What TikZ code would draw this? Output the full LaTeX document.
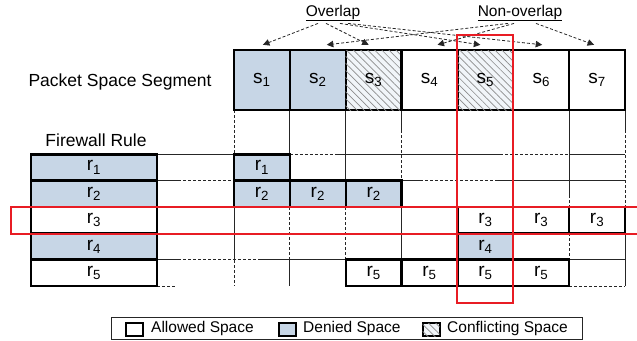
\documentclass[tikz,border=0pt]{standalone}
\usepackage{fontspec}
\setmainfont{Liberation Sans}
\usetikzlibrary{patterns.meta,arrows.meta}
\definecolor{deny}{RGB}{199,214,230}
\definecolor{hl}{RGB}{232,28,36}
\newcommand\cellfont{\fontsize{19}{19}\selectfont}
\newcommand\headfont{\fontsize{17.5}{18}\selectfont}
\newcommand\legfont{\fontsize{15.5}{16}\selectfont}
\newcommand\tagfont{\fontsize{15.5}{16}\selectfont}
\begin{document}
\begin{tikzpicture}[x=1pt,y=-1pt,
  gline/.style={line width=0.9pt,draw=black!85},
  gdash/.style={gline,dash pattern=on 3pt off 2pt},
  hatch/.style={fill=deny!25,postaction={pattern={Lines[angle=-45,distance=5pt,line width=0.7pt]},pattern color=black!45}},
  cellbox/.style={draw=black,line width=2.4pt,minimum width=55.86pt,minimum height=26.34pt,inner sep=0pt,font=\cellfont},
  scell/.style={cellbox,minimum height=60pt},
  rbox/.style={cellbox,minimum width=126pt},
  legsq/.style={draw=black,line width=2pt,minimum width=17pt,minimum height=13pt,inner sep=0pt},
  arr/.style={draw=black!85,line width=0.8pt,dash pattern=on 3pt off 2pt,-{Triangle[length=6.5pt,width=6.5pt]}},
  redline/.style={draw=hl,line width=2pt}
]
\useasboundingbox (0,0) rectangle (637,340);

% ---------- thin grid lines ----------
% vertical
\draw[gdash] (234,110) -- (234,154);
\draw[gline] (234,207) -- (234,260);
\draw[gdash] (234,260) -- (234,286);
\draw[gline] (289.9,110) -- (289.9,154);
\draw[gdash] (289.9,207) -- (289.9,260);
\draw[gline] (289.9,260) -- (289.9,286);
\draw[gline] (345.7,110) -- (345.7,181);
\draw[gdash] (345.7,207) -- (345.7,260);
\draw[gline] (401.6,110) -- (401.6,130);
\draw[gdash] (401.6,130) -- (401.6,181);
\draw[gline] (401.6,207) -- (401.6,260);
\draw[gline] (457.4,110) -- (457.4,260);
\draw[gline] (513.3,110) -- (513.3,234);
\draw[gline] (569.1,110) -- (569.1,195);
\draw[gdash] (569.1,195) -- (569.1,207);
\draw[gdash] (569.1,233.3) -- (569.1,260);
\draw[gline] (625,110) -- (625,130);
\draw[gdash] (625,130) -- (625,207);
\draw[gline] (625,233.3) -- (625,286);
% horizontal
\draw[gline] (157,154.3) -- (234,154.3);
\draw[gdash] (289.9,154.3) -- (335,154.3);
\draw[gline] (335,154.3) -- (500,154.3);
\draw[gdash] (500,154.3) -- (570,154.3);
\draw[gline] (570,154.3) -- (625,154.3);
\draw[gline] (157,180.6) -- (178,180.6);
\draw[gdash] (178,180.6) -- (234,180.6);
\draw[gline] (401.6,180.6) -- (420,180.6);
\draw[gdash] (420,180.6) -- (497,180.6);
\draw[gline] (497,180.6) -- (625,180.6);
\draw[gline] (157,207) -- (625,207);
\draw[gline] (157,233.3) -- (625,233.3);
\draw[gline] (157,259.7) -- (178,259.7);
\draw[gdash] (178,259.7) -- (260,259.7);
\draw[gline] (260,259.7) -- (345.7,259.7);
\draw[gline] (569.1,259.7) -- (625,259.7);
\draw[gdash] (157,286) -- (176,286);
\draw[gdash] (569.1,286) -- (625,286);

% ---------- labels ----------
\node[font=\headfont] (pss) at (120,82) {Packet Space Segment};
\node[font=\headfont] (fwr) at (96,140) {Firewall Rule};

% ---------- packet space segments ----------
\node[scell,fill=deny] (s1) at (261.93,80) {s\textsubscript{1}};
\node[scell,fill=deny] (s2) at (317.79,80) {s\textsubscript{2}};
\node[scell,hatch] (s3) at (373.65,80) {s\textsubscript{3}};
\node[scell,fill=white] (s4) at (429.5,80) {s\textsubscript{4}};
\node[scell,hatch] (s5) at (485.36,80) {s\textsubscript{5}};
\node[scell,fill=white] (s6) at (541.21,80) {s\textsubscript{6}};
\node[scell,fill=white] (s7) at (597.07,80) {s\textsubscript{7}};

% ---------- firewall rules ----------
\node[rbox,fill=deny] (R1) at (94,167.47) {r\textsubscript{1}};
\node[rbox,fill=deny] (R2) at (94,193.81) {r\textsubscript{2}};
\node[rbox,fill=white] (R3) at (94,220.15) {r\textsubscript{3}};
\node[rbox,fill=deny] (R4) at (94,246.49) {r\textsubscript{4}};
\node[rbox,fill=white] (R5) at (94,272.83) {r\textsubscript{5}};

% ---------- rule cells ----------
\node[cellbox,fill=deny] (c11) at (261.93,167.47) {r\textsubscript{1}};
\node[cellbox,fill=deny] (c21) at (261.93,193.81) {r\textsubscript{2}};
\node[cellbox,fill=deny] (c22) at (317.79,193.81) {r\textsubscript{2}};
\node[cellbox,fill=deny] (c23) at (373.65,193.81) {r\textsubscript{2}};
\node[cellbox,fill=white] (c35) at (485.36,220.15) {r\textsubscript{3}};
\node[cellbox,fill=white] (c36) at (541.21,220.15) {r\textsubscript{3}};
\node[cellbox,fill=white] (c37) at (597.07,220.15) {r\textsubscript{3}};
\node[cellbox,fill=deny] (c45) at (485.36,246.49) {r\textsubscript{4}};
\node[cellbox,fill=white] (c53) at (373.65,272.83) {r\textsubscript{5}};
\node[cellbox,fill=white] (c54) at (429.5,272.83) {r\textsubscript{5}};
\node[cellbox,fill=white] (c55) at (485.36,272.83) {r\textsubscript{5}};
\node[cellbox,fill=white] (c56) at (541.21,272.83) {r\textsubscript{5}};

% ---------- overlap tags and arrows ----------
\node[font=\tagfont,inner sep=1pt] (ov) at (333,13) {\underline{Overlap}};
\node[font=\tagfont,inner sep=1pt] (nov) at (520,13) {\underline{Non-overlap}};
\draw[arr] ([xshift=-15pt,yshift=-1pt]ov.south) -- ([xshift=1pt,yshift=4pt]s1.north);
\draw[arr] ([xshift=-7pt,yshift=-1pt]ov.south) -- ([xshift=-5pt,yshift=4pt]s3.north);
\draw[arr] ([xshift=7pt,yshift=-1pt]ov.south) -- ([xshift=-5pt,yshift=4pt]s5.north);
\draw[arr] ([xshift=15pt,yshift=-1pt]ov.south) -- ([xshift=1pt,yshift=4pt]s6.north);
\draw[arr] ([xshift=-12pt,yshift=-1pt]nov.south) -- ([xshift=9pt,yshift=4pt]s2.north);
\draw[arr] ([xshift=-6pt,yshift=-1pt]nov.south) -- ([xshift=8pt,yshift=4pt]s4.north);
\draw[arr] ([xshift=16pt,yshift=-1pt]nov.south) -- ([xshift=-3pt,yshift=4pt]s7.north);

% ---------- red highlights ----------
\draw[redline] (457.4,35) rectangle (513.3,302.5);
\draw[redline] (640,207) -- (11,207) -- (11,233.6) -- (640,233.6);

% ---------- legend ----------
\node[draw=black!85,line width=1pt,minimum width=471pt,minimum height=22pt,inner sep=0pt] (leg) at (347.4,328.6) {};
\node[legsq,fill=white] (la) at (134,329.8) {};
\node[font=\legfont,anchor=west,inner sep=0pt] (ta) at (151,328.8) {Allowed Space};
\node[legsq,fill=deny] (ld) at (287.5,329.8) {};
\node[font=\legfont,anchor=west,inner sep=0pt] (td) at (303,328.8) {Denied Space};
\node[legsq,hatch] (lc) at (431,329.8) {};
\node[font=\legfont,anchor=west,inner sep=0pt] (tc) at (447,328.8) {Conflicting Space};
\end{tikzpicture}
\end{document}
